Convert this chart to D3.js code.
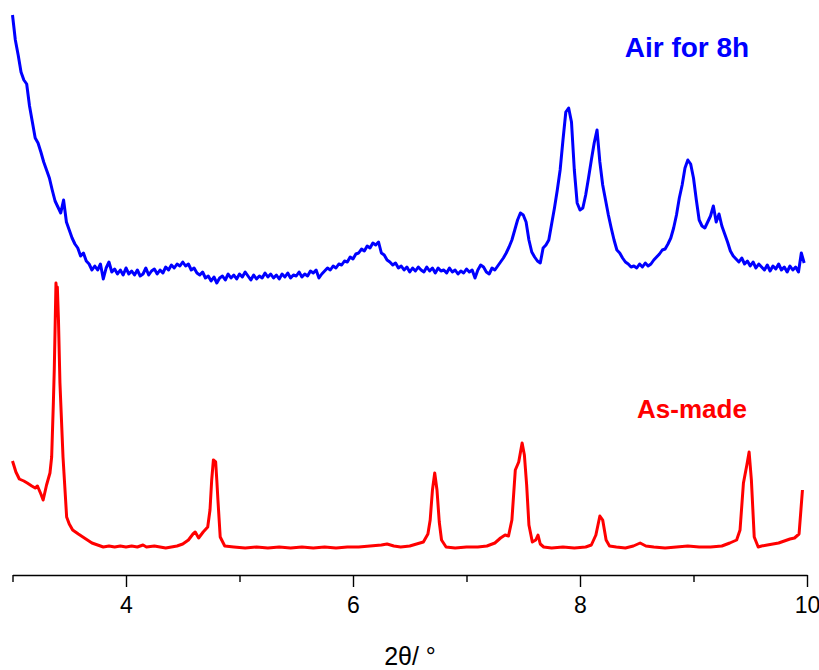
<!DOCTYPE html>
<html>
<head>
<meta charset="utf-8">
<script src="https://cdn.jsdelivr.net/npm/d3@7"></script>
<style>
  html, body { margin: 0; padding: 0; background: #fff; }
  svg { display: block; }
</style>
</head>
<body>
<svg id="chart" width="819" height="670"></svg>
<script>
// Powder XRD patterns, 2θ from 3° to 10°

// "Air for 8h" sample: start angle, step, intensities (a.u.)
const airStart = 3.0;
const airStep = 0.025;
const airIntensity = [
  285,260,245,228,220,216,194,178,
  162,157,148,138,130,122,110,99,
  93,87,100,78,70,62,56,52,
  44,47,39,36,30,34,30,36,
  21,32,38,28,31,26,30,25,
  32,26,29,25,30,24,26,32,
  25,29,31,26,30,27,33,30,
  35,32,36,34,38,34,36,30,
  32,27,25,28,22,24,19,23,
  17,22,24,20,26,22,25,21,
  26,23,28,24,20,25,21,24,
  22,27,23,26,22,25,21,26,
  23,27,22,25,24,28,23,26,
  24,29,27,30,22,26,29,32,
  30,34,32,36,35,39,38,43,
  41,46,47,51,49,54,52,57,
  55,58,47,45,40,38,35,37,
  32,34,30,33,28,32,29,33,
  30,28,33,29,32,27,32,29,
  30,27,32,28,30,26,29,27,
  31,28,30,22,30,35,33,28,
  26,32,30,34,38,42,47,53,
  60,70,80,87,85,78,60,48,
  43,39,37,52,55,60,76,92,
  110,130,160,188,192,178,130,97,
  90,92,105,122,140,157,170,138,
  115,100,85,72,60,50,47,42,
  38,36,33,34,32,36,33,37,
  34,36,40,43,46,50,51,56,
  62,72,85,102,115,132,140,136,
  122,100,80,74,72,78,84,94,
  78,86,74,66,58,49,44,41,
  38,42,36,39,34,38,32,36,
  33,30,35,29,34,31,36,30,
  33,28,34,30,33,28,47,37
];
// vertical offset used to stack the air-treated pattern above the as-made one
const airOffset = 300;

// "As-made" sample: 2θ positions and intensities (a.u.)
const madeAngle = [
  3.00,3.03,3.06,3.10,3.13,3.17,3.20,3.22,3.25,3.27,
  3.30,3.33,3.345,3.36,3.368,3.383,3.39,3.395,3.405,3.418,
  3.445,3.477,3.50,3.53,3.58,3.62,3.66,3.70,3.75,3.80,
  3.85,3.90,3.95,4.00,4.05,4.10,4.15,4.18,4.25,4.30,
  4.35,4.40,4.45,4.50,4.55,4.59,4.61,4.64,4.68,4.72,
  4.74,4.755,4.77,4.79,4.80,4.81,4.83,4.87,4.95,5.05,
  5.15,5.25,5.35,5.45,5.55,5.65,5.75,5.85,5.95,6.05,
  6.15,6.25,6.30,6.36,6.42,6.50,6.56,6.62,6.66,6.68,
  6.70,6.72,6.74,6.76,6.78,6.82,6.90,7.00,7.10,7.18,
  7.25,7.30,7.34,7.37,7.40,7.43,7.46,7.49,7.51,7.53,
  7.55,7.58,7.61,7.63,7.65,7.68,7.75,7.85,7.95,8.05,
  8.10,8.14,8.175,8.20,8.23,8.26,8.32,8.40,8.47,8.53,
  8.58,8.65,8.75,8.85,8.95,9.05,9.15,9.25,9.32,9.38,
  9.41,9.44,9.47,9.49,9.51,9.535,9.57,9.60,9.65,9.70,
  9.75,9.80,9.85,9.89,9.93,9.96
];
const madeIntensity = [
  139,128,121,119,117,114,112,114,106,100,
  115,127,143,197,230,317,305,313,280,217,
  143,83,76,70,66,63,60,57,55,53,
  54,53,54,53,54,53,55,53,54,53,
  52,53,54,56,60,66,68,62,68,73,
  90,120,140,138,120,100,63,54,53,52,
  53,52,53,52,53,52,53,52,53,53,
  54,55,56,54,53,54,56,58,66,80,
  110,127,110,78,60,53,52,53,53,54,
  57,62,65,64,80,130,138,157,145,115,
  75,58,60,65,56,53,52,53,52,53,
  55,65,84,80,60,54,53,52,54,57,
  54,53,52,53,54,53,53,54,57,60,
  70,117,135,148,120,63,53,54,55,56,
  57,59,61,62,66,110
];

// axis ticks
const majorTicks = [4, 6, 8, 10];
const minorTicks = [3, 5, 7, 9];

// series labels
const airLabel = "Air for 8h";
const madeLabel = "As-made";

const svg = d3.select("#chart");

const x = d3.scaleLinear().domain([3, 10]).range([12.5, 807]);
const y = d3.scaleLinear().domain([0, 600]).range([600, 0]);
const axisY = 575;

const airData = airIntensity.map((v, i) => ({ t: airStart + i * airStep, v: v + airOffset }));
const madeData = madeAngle.map((t, i) => ({ t, v: madeIntensity[i] }));

const line = d3.line()
  .x(d => x(d.t))
  .y(d => y(d.v));

svg.append("path")
  .datum(madeData)
  .attr("d", line)
  .attr("fill", "none")
  .attr("stroke", "#ff0000")
  .attr("stroke-width", 3)
  .attr("stroke-linejoin", "round");

svg.append("path")
  .datum(airData)
  .attr("d", line)
  .attr("fill", "none")
  .attr("stroke", "#0000ff")
  .attr("stroke-width", 3)
  .attr("stroke-linejoin", "round");

// bottom axis: long labelled ticks and short unlabelled ones
const gMajor = svg.append("g")
  .attr("transform", `translate(0,${axisY})`)
  .call(d3.axisBottom(x).tickValues(majorTicks).tickSize(12).tickSizeOuter(0).tickPadding(10)
    .tickFormat(d3.format("d")));
gMajor.select(".domain").attr("stroke", "#000").attr("stroke-width", 1.6);
gMajor.selectAll(".tick line").attr("stroke", "#000").attr("stroke-width", 1.4);
gMajor.selectAll(".tick text")
  .attr("font-family", "Liberation Sans, Arial, sans-serif")
  .attr("font-size", 23)
  .attr("fill", "#000");

const gMinor = svg.append("g")
  .attr("transform", `translate(0,${axisY})`)
  .call(d3.axisBottom(x).tickValues(minorTicks).tickSize(7).tickSizeOuter(0).tickFormat(""));
gMinor.select(".domain").remove();
gMinor.selectAll(".tick line").attr("stroke", "#000").attr("stroke-width", 1.4);

// axis title
svg.append("text")
  .attr("x", 410)
  .attr("y", 665)
  .attr("text-anchor", "middle")
  .attr("font-family", "Liberation Sans, Arial, sans-serif")
  .attr("font-size", 25)
  .attr("fill", "#000")
  .text("2θ/ °");

// series labels
svg.append("text")
  .attr("x", 687)
  .attr("y", 57)
  .attr("text-anchor", "middle")
  .attr("font-family", "Liberation Sans, Arial, sans-serif")
  .attr("font-weight", "bold")
  .attr("font-size", 28)
  .attr("fill", "#0000ff")
  .text(airLabel);

svg.append("text")
  .attr("x", 692)
  .attr("y", 418)
  .attr("text-anchor", "middle")
  .attr("font-family", "Liberation Sans, Arial, sans-serif")
  .attr("font-weight", "bold")
  .attr("font-size", 26)
  .attr("fill", "#ff0000")
  .text(madeLabel);
</script>
</body>
</html>
